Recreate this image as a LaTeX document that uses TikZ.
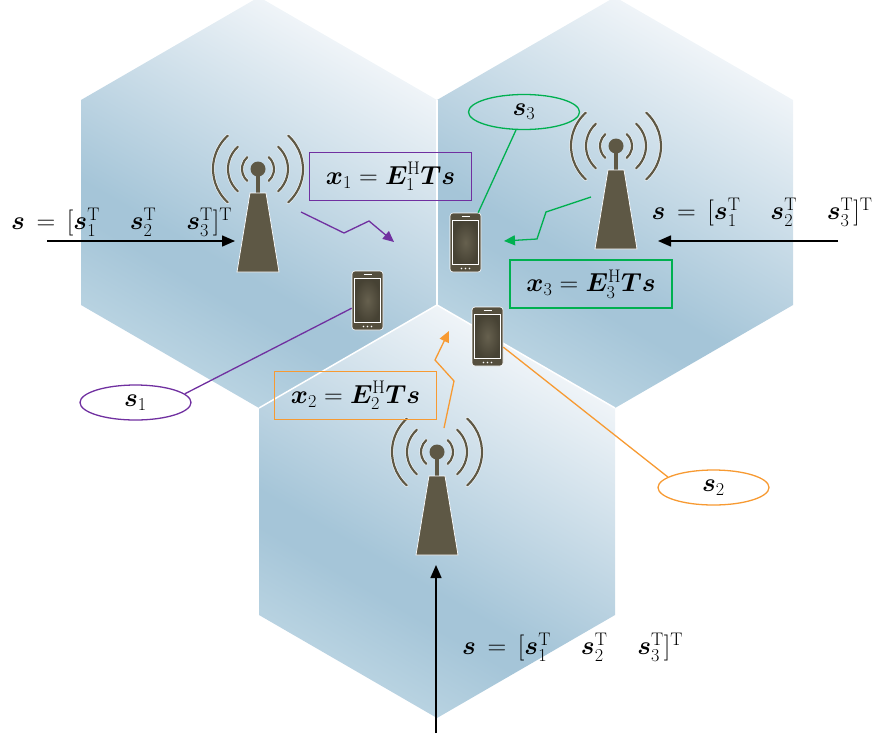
\RequirePackage{fix-cm}
\documentclass[tikz,border=0pt]{standalone}
\usepackage{amsmath}
\usepackage{bm}
\usetikzlibrary{arrows.meta,shapes.geometric}
\definecolor{towerbrown}{HTML}{5E5845}
\definecolor{purpleline}{HTML}{7030A0}
\definecolor{greenline}{HTML}{00B050}
\definecolor{orangeline}{HTML}{F79A32}
\definecolor{cellA}{HTML}{F4F7FA}
\definecolor{cellB}{HTML}{A5C5D8}
\definecolor{cellC}{HTML}{BAD4E2}
\pgfdeclareverticalshading{cellshade}{100bp}{
  color(0bp)=(cellC);
  color(26bp)=(cellC);
  color(37bp)=(cellB);
  color(41bp)=(cellB);
  color(75bp)=(cellA);
  color(100bp)=(cellA)}
\newcommand{\bigmath}{\fontsize{26}{30}\selectfont}
\newcommand{\sigvec}{$\bm{s}\hspace{4.5pt}=\hspace{4.5pt}[\bm{s}_1^{\mathrm{T}}\quad\hspace{4pt}\bm{s}_2^{\mathrm{T}}\quad\hspace{4pt}\bm{s}_3^{\mathrm{T}}]^{\mathrm{T}}$}
\tikzset{
  cell/.style={shading=cellshade,shading angle=-30},
  celledge/.style={draw=white,line width=1.5pt},
  infobox/.style={draw,line width=1.3pt,minimum width=162pt,minimum height=48pt,inner sep=0pt,font=\bigmath},
  useroval/.style={draw,ellipse,line width=1.3pt,minimum width=111pt,minimum height=35pt,inner sep=0pt,font=\bigmath},
  feed/.style={-{Triangle[length=13pt,width=11pt]},black,line width=1.5pt},
  link/.style={line width=1.3pt},
  zigzag/.style={line width=1.3pt,-{Triangle[length=11pt,width=10pt]}},
  signal/.style={font=\bigmath,inner sep=0pt},
  handset/.style={draw=white,line width=.6pt,fill=towerbrown!90!black,rounded corners=3pt,minimum width=31pt,minimum height=59pt,inner sep=0pt},
  tower/.pic={
    \foreach \r in {16,30,45}{
      \draw[white,line width=3.2pt,line cap=round] (-48:\r) arc[start angle=-48,end angle=48,radius=\r];
      \draw[white,line width=3.2pt,line cap=round] (132:\r) arc[start angle=132,end angle=228,radius=\r];
      \draw[towerbrown,line width=2.2pt,line cap=round] (-48:\r) arc[start angle=-48,end angle=48,radius=\r];
      \draw[towerbrown,line width=2.2pt,line cap=round] (132:\r) arc[start angle=132,end angle=228,radius=\r];
    }
    \fill[towerbrown] (-2,0) rectangle (2,24);
    \fill[towerbrown] (0,0) circle[radius=7.5];
    \draw[white,line width=.7pt,fill=towerbrown] (-8,24) -- (8,24) -- (21,103) -- (-21,103) -- cycle;
  },
  phonedetail/.pic={
    \shade[inner color=towerbrown!95!white,outer color=towerbrown!75!black] (-13,-22) rectangle (13,22);
    \draw[white,line width=.6pt] (-13,-22) rectangle (13,22);
    \draw[white,line width=.8pt] (-4,-26.5) -- (4,-26.5);
    \foreach \d in {-4,0,4}{\fill[white] (\d,26) circle[radius=.9];}
  }
}
\begin{document}
\begin{tikzpicture}[x=1pt,y=-1pt]
  \useasboundingbox (0,0) rectangle (877,737);
  % cells
  \path[cell] (259,-3) -- (437,100) -- (437,305) -- (259,408) -- (81,305) -- (81,100) -- cycle;
  \path[cell] (615,-3) -- (793,100) -- (793,305) -- (615,408) -- (437,305) -- (437,100) -- cycle;
  \path[celledge] (437,100) -- (437,305);
  \path[cell] (437,305) -- (615,408) -- (615,615) -- (437,718) -- (259,615) -- (259,408) -- cycle;
  \path[celledge] (259,408) -- (437,305) -- (615,408);
  % towers
  \pic at (258,169) {tower};
  \pic at (616,146) {tower};
  \pic at (437,452) {tower};
  % phones
  \node[handset] (phone1) at (367.5,300.5) {};
  \node[handset] (phone2) at (487.5,336.5) {};
  \node[handset] (phone3) at (465.5,242.5) {};
  \pic at (phone1) {phonedetail};
  \pic at (phone2) {phonedetail};
  \pic at (phone3) {phonedetail};
  % users
  \node[useroval,draw=purpleline] (user1) at (135.5,402.5) {$\bm{s}_1$};
  \node[useroval,draw=orangeline] (user2) at (713.5,487.5) {$\bm{s}_2$};
  \node[useroval,draw=greenline] (user3) at (524,112) {$\bm{s}_3$};
  \draw[link,purpleline] (user1.10) -- (phone1.206);
  \draw[link,orangeline] (user2.167) -- (phone2.-34);
  \draw[link,greenline] (user3.246) -- (phone3.67);
  % boxes
  \node[infobox,draw=purpleline] (box1) at (390.5,176.5) {$\bm{x}_1=\bm{E}_1^{\mathrm{H}}\bm{T}\bm{s}$};
  \node[infobox,draw=orangeline] (box2) at (355.5,395.5) {$\bm{x}_2=\bm{E}_2^{\mathrm{H}}\bm{T}\bm{s}$};
  \node[infobox,draw=greenline] (box3) at (591,284) {$\bm{x}_3=\bm{E}_3^{\mathrm{H}}\bm{T}\bm{s}$};
  % downlink
  \coordinate (a1) at (301,212); \coordinate (a2) at (344,233); \coordinate (a3) at (369,221); \coordinate (a4) at (394,242);
  \coordinate (b1) at (444,428); \coordinate (b2) at (454,381); \coordinate (b3) at (435,360); \coordinate (b4) at (449,331);
  \coordinate (c1) at (591,197); \coordinate (c2) at (546,212); \coordinate (c3) at (537,239); \coordinate (c4) at (504,241);
  \draw[zigzag,purpleline] (a1) -- (a2) -- (a3) -- (a4);
  \draw[zigzag,orangeline] (b1) -- (b2) -- (b3) -- (b4);
  \draw[zigzag,greenline] (c1) -- (c2) -- (c3) -- (c4);
  % inputs
  \coordinate (in1) at (47,241); \coordinate (to1) at (235,241);
  \coordinate (in3) at (838,241); \coordinate (to3) at (658,241);
  \coordinate (in2) at (436,733); \coordinate (to2) at (436,565);
  \draw[feed] (in1) -- (to1);
  \draw[feed] (in3) -- (to3);
  \draw[feed] (in2) -- (to2);
  \node[signal] (sig1) at (121.5,222) {\sigvec};
  \node[signal] (sig3) at (762,212) {\sigvec};
  \node[signal] (sig2) at (572.5,647) {\sigvec};
\end{tikzpicture}
\end{document}
